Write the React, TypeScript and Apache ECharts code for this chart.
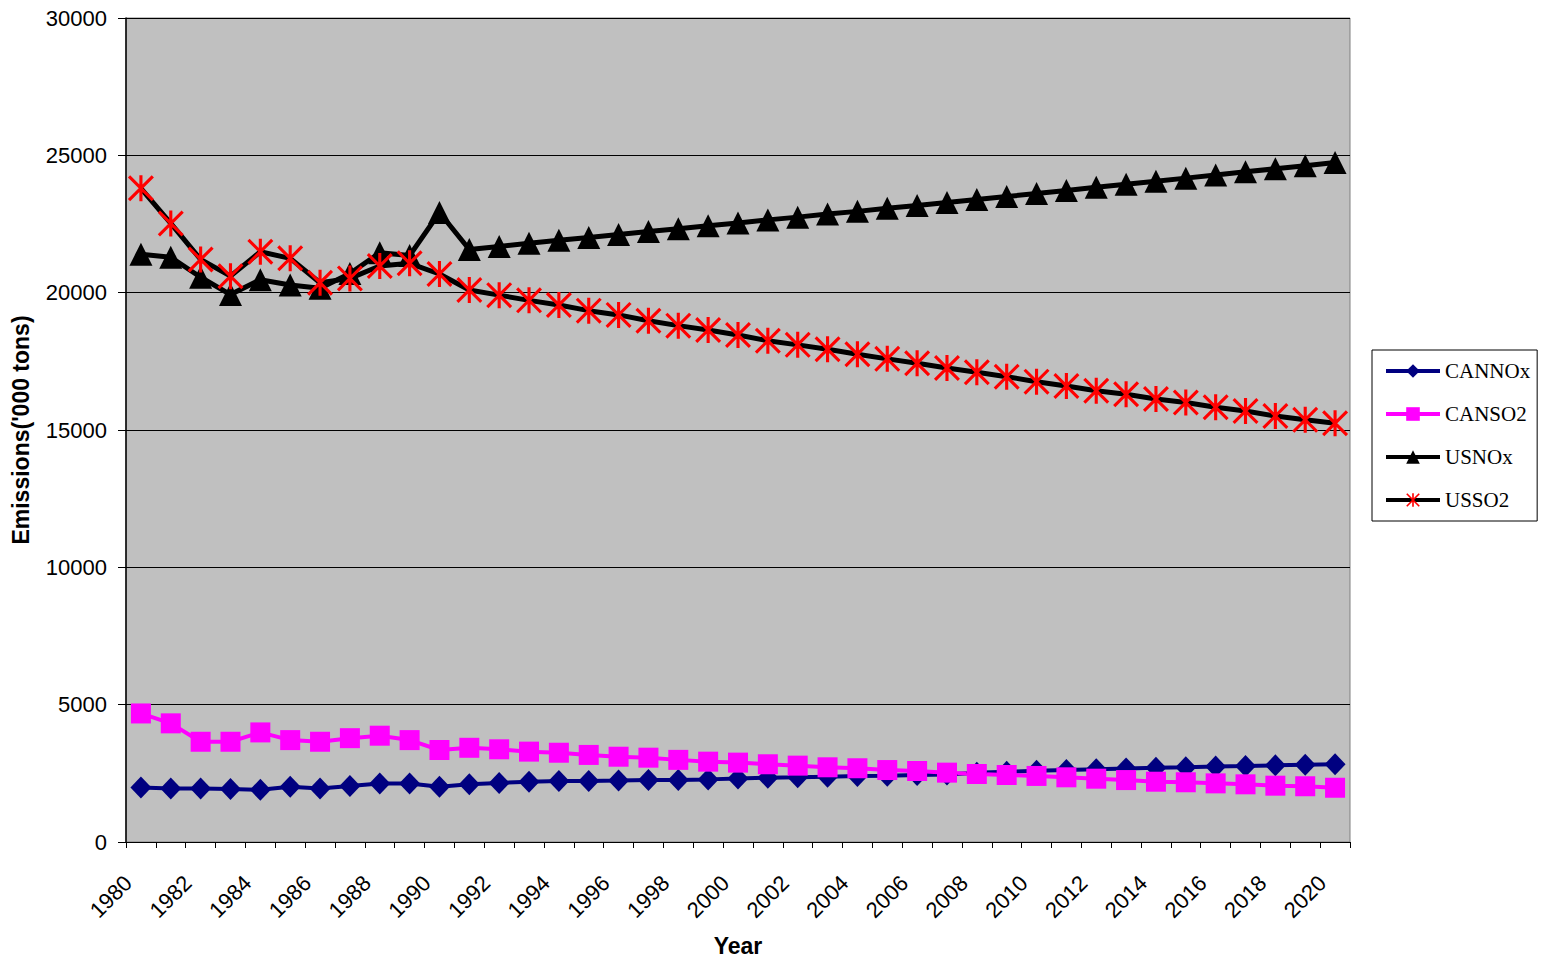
import React, { useEffect, useRef } from "react";
import * as echarts from "echarts";

const years = [
  "1980", "1981", "1982", "1983", "1984", "1985", "1986", "1987", "1988", "1989",
  "1990", "1991", "1992", "1993", "1994", "1995", "1996", "1997", "1998", "1999",
  "2000", "2001", "2002", "2003", "2004", "2005", "2006", "2007", "2008", "2009",
  "2010", "2011", "2012", "2013", "2014", "2015", "2016", "2017", "2018", "2019",
  "2020",
];

const canNOx = [
  1980, 1950, 1950, 1930, 1900, 2010, 1950, 2040, 2130, 2130,
  2010, 2100, 2150, 2190, 2220, 2220, 2235, 2255, 2260, 2280,
  2315, 2340, 2355, 2380, 2400, 2415, 2440, 2460, 2520, 2555,
  2590, 2620, 2650, 2680, 2700, 2720, 2745, 2765, 2790, 2810,
  2830,
];

const canSO2 = [
  4680, 4320, 3650, 3650, 3990, 3710, 3650, 3780, 3870, 3710,
  3350, 3430, 3375, 3290, 3250, 3170, 3105, 3070, 2990, 2925,
  2890, 2830, 2780, 2720, 2685, 2620, 2585, 2525, 2475, 2440,
  2405, 2355, 2305, 2255, 2195, 2175, 2135, 2100, 2050, 2030,
  1975,
];

const usNOx = [
  21400, 21290, 20560, 19930, 20470, 20280, 20160, 20700, 21450, 21350,
  22920, 21570, 21680, 21800, 21910, 22010, 22120, 22230, 22330, 22440,
  22540, 22650, 22750, 22860, 22960, 23070, 23170, 23280, 23390, 23500,
  23610, 23720, 23840, 23950, 24060, 24170, 24280, 24400, 24510, 24620,
  24740,
];

const usSO2 = [
  23800, 22520, 21210, 20600, 21490, 21250, 20360, 20520, 20970, 21070,
  20680, 20100, 19910, 19720, 19550, 19345, 19190, 18980, 18800, 18640,
  18460, 18250, 18100, 17940, 17760, 17590, 17430, 17260, 17100, 16940,
  16760, 16600, 16430, 16300, 16130, 16000, 15830, 15690, 15510, 15370,
  15245,
];

const yTicks = { min: 0, max: 30000, interval: 5000 };

const STAR =
  "path://M44 0L56 0L56 100L44 100Z M0 8.5L8.5 0L100 91.5L91.5 100Z M91.5 0L100 8.5L8.5 100L0 91.5Z";

export default function App() {
  const ref = useRef<HTMLDivElement>(null);

  useEffect(() => {
    document.body.style.margin = "0";
    if (!ref.current) return;
    const chart = echarts.init(ref.current, null, { renderer: "svg" });
    const sans = "Liberation Sans, Arial, sans-serif";
    const serif = "Liberation Serif, Times New Roman, serif";
    chart.setOption({
      animation: false,
      backgroundColor: "#ffffff",
      grid: {
        left: 126,
        top: 18,
        width: 1224,
        height: 824,
        outerBoundsMode: "none",
        containLabel: false,
        show: true,
        backgroundColor: "#C0C0C0",
        borderColor: "#808080",
        borderWidth: 1,
      },
      legend: {
        orient: "vertical",
        left: 1372,
        top: 350,
        itemWidth: 54,
        itemHeight: 17,
        itemGap: 22,
        padding: [10.5, 7, 10.5, 12],
        borderColor: "#000",
        borderWidth: 1,
        backgroundColor: "#fff",
        lineStyle: { width: 4 },
        textStyle: { fontFamily: serif, fontSize: 21, color: "#000" },
        data: ["CANNOx", "CANSO2", "USNOx", "USSO2"],
      },
      xAxis: {
        type: "category",
        data: years,
        boundaryGap: true,
        name: "Year",
        nameLocation: "middle",
        nameGap: 92,
        nameTextStyle: { fontFamily: sans, fontSize: 23, fontWeight: "bold", color: "#000" },
        axisLine: { show: true, lineStyle: { color: "#000", width: 1 } },
        axisTick: { show: true, interval: 0, alignWithLabel: false, length: 6, lineStyle: { color: "#000" } },
        axisLabel: {
          interval: 1,
          rotate: 45,
          margin: 9,
          verticalAlign: "top",
          padding: [0, 29, 0, 0],
          fontFamily: sans,
          fontSize: 22,
          color: "#000",
        },
        splitLine: { show: false },
      },
      yAxis: {
        type: "value",
        min: yTicks.min,
        max: yTicks.max,
        interval: yTicks.interval,
        name: "Emissions('000 tons)",
        nameLocation: "middle",
        nameGap: 94,
        nameRotate: 90,
        nameTextStyle: { fontFamily: sans, fontSize: 23, fontWeight: "bold", color: "#000" },
        axisLine: { show: true, lineStyle: { color: "#000", width: 1.5 } },
        axisTick: { show: true, length: 8, lineStyle: { color: "#000" } },
        axisLabel: {
          margin: 19,
          fontFamily: sans,
          fontSize: 22,
          color: "#000",
          formatter: (v: number) => String(v),
        },
        splitLine: { show: true, lineStyle: { color: "#000", width: 1 } },
      },
      series: [
        {
          name: "CANNOx",
          type: "line",
          data: canNOx,
          symbol: "diamond",
          symbolSize: [21, 22],
          showAllSymbol: true,
          lineStyle: { color: "#000080", width: 4 },
          itemStyle: { color: "#000080" },
        },
        {
          name: "CANSO2",
          type: "line",
          data: canSO2,
          symbol: "rect",
          symbolSize: 20,
          showAllSymbol: true,
          lineStyle: { color: "#FF00FF", width: 4 },
          itemStyle: { color: "#FF00FF" },
        },
        {
          name: "USNOx",
          type: "line",
          data: usNOx,
          symbol: "triangle",
          symbolSize: [23, 23],
          showAllSymbol: true,
          lineStyle: { color: "#000", width: 5 },
          itemStyle: { color: "#000" },
        },
        {
          name: "USSO2",
          type: "line",
          data: usSO2,
          symbol: STAR,
          symbolSize: 26,
          showAllSymbol: true,
          lineStyle: { color: "#000", width: 5 },
          itemStyle: { color: "#FF0000" },
        },
      ],
    });
    return () => chart.dispose();
  }, []);

  return <div ref={ref} style={{ width: 1548, height: 960 }} />;
}
